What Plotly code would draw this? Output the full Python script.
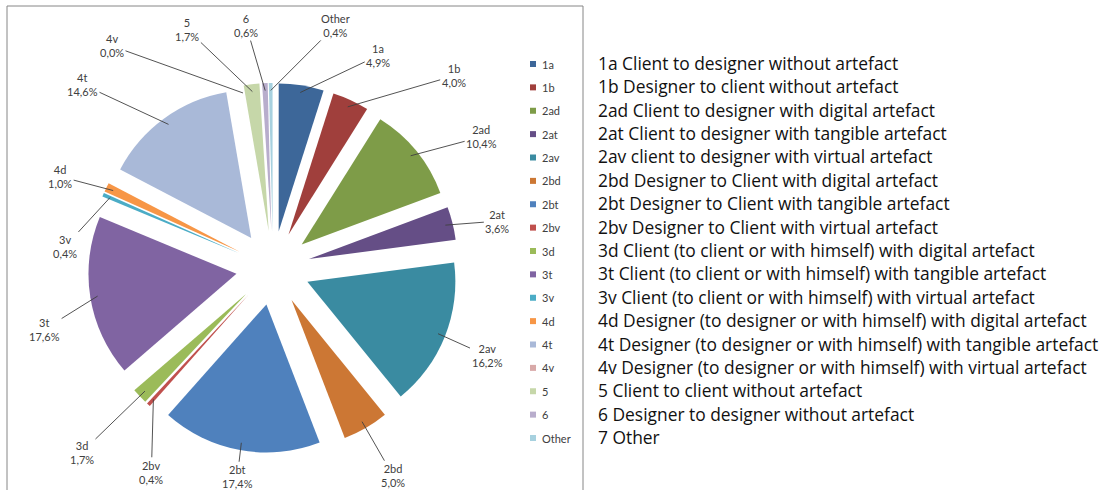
import math
import plotly.graph_objects as go

# ---------------- data ----------------
categories = ["1a", "1b", "2ad", "2at", "2av", "2bd", "2bt", "2bv", "3d", "3t",
              "3v", "4d", "4t", "4v", "5", "6", "Other"]
values = [4.9, 4.0, 10.4, 3.6, 16.2, 5.0, 17.4, 0.4, 1.7, 17.6,
          0.4, 1.0, 14.6, 0.0, 1.7, 0.6, 0.4]
descriptions = [
    "1a Client to designer without artefact",
    "1b Designer to client without artefact",
    "2ad Client to designer with digital artefact",
    "2at Client to designer with tangible artefact",
    "2av client to designer with virtual artefact",
    "2bd Designer to Client with digital artefact",
    "2bt Designer to Client with tangible artefact",
    "2bv Designer to Client with virtual artefact",
    "3d Client (to client or with himself) with digital artefact",
    "3t Client (to client or with himself) with tangible artefact",
    "3v Client (to client or with himself) with virtual artefact",
    "4d Designer (to designer or with himself) with digital artefact",
    "4t Designer (to designer or with himself) with tangible artefact",
    "4v Designer (to designer or with himself) with virtual artefact",
    "5 Client to client without artefact",
    "6 Designer to designer without artefact",
    "7 Other",
]

# ---------------- style ----------------
colors = ["#3D6799", "#A03F3C", "#7E9C48", "#654E86", "#3A8BA1", "#CC7734",
          "#4F81BD", "#C0504D", "#9BBB59", "#8064A2", "#4BACC6", "#F79646",
          "#A9B9D8", "#D8A9A8", "#C6D7A9", "#B8ADCC", "#A7D1DF"]
# label offsets (pixels) from leader-line start, like Excel's moved labels
label_dx = [78, 106, 71, 52, 49, 31, -4, -2, -63, -53, -45, -53, -86, -131, -65, -19, 65]
label_dy = [-37, -31, -19, -4, 22, 54, 34, 73, 61, 33, 49, -14, -40, -47, -62, -65, -65]

W, H = 1107, 490
PULL = 0.25
CX, CY = 273.0, 268.0        # pie centre in pixels
HALF = 185.0                 # half size of pie box in pixels
R = HALF / (1 + PULL)        # plotly's pie radius for that box
LABEL_FONT = "Lato, 'Open Sans', sans-serif"
DESC_FONT = "'Open Sans', Lato, sans-serif"
TXT = "#404040"

fig = go.Figure()
fig.add_trace(go.Pie(
    labels=categories, values=values, sort=False, direction="clockwise",
    rotation=0, pull=[PULL] * len(values),
    marker=dict(colors=colors, line=dict(width=0)),
    textinfo="none", hoverinfo="label+percent", showlegend=False,
    domain=dict(x=[(CX - HALF) / W, (CX + HALF) / W],
                y=[(H - CY - HALF) / H, (H - CY + HALF) / H]),
))

annotations = []
shapes = []

# data labels with leader lines
total = sum(values)
cum = 0.0
for i, (lab, v) in enumerate(zip(categories, values)):
    mid = (cum + v / 2) / total * 2 * math.pi
    cum += v
    dist = PULL * R + 0.95 * R
    tx = CX + dist * math.sin(mid)
    ty = CY - dist * math.cos(mid)
    pct = f"{v:.1f}".replace(".", ",") + "%"
    annotations.append(dict(
        x=tx / W, y=1 - ty / H, xref="paper", yref="paper",
        text=f"{lab}<br>{pct}", showarrow=True, arrowhead=0, arrowwidth=0.9,
        arrowcolor="#404040", standoff=0, ax=label_dx[i], ay=label_dy[i],
        axref="pixel", ayref="pixel",
        font=dict(family=LABEL_FONT, size=11, color=TXT), align="center",
    ))

# legend (manual, Excel-like spacing)
LEG_TOP, LEG_STEP = 64.0, 23.375
for i, lab in enumerate(categories):
    yc = LEG_TOP + i * LEG_STEP
    shapes.append(dict(type="rect", xref="paper", yref="paper",
                       x0=530 / W, x1=536 / W, y0=1 - (yc - 3) / H, y1=1 - (yc + 3) / H,
                       fillcolor=colors[i], line=dict(width=0)))
    annotations.append(dict(x=540 / W, y=1 - yc / H, xref="paper", yref="paper",
                            text=lab, showarrow=False, xanchor="left", yanchor="middle",
                            font=dict(family=LABEL_FONT, size=11, color=TXT)))

# description block on the right
for i, d in enumerate(descriptions):
    yc = 63.0 + i * LEG_STEP
    annotations.append(dict(x=596 / W, y=1 - yc / H, xref="paper", yref="paper",
                            text=d, showarrow=False, xanchor="left", yanchor="middle",
                            font=dict(family=DESC_FONT, size=17.4, color="#111111")))

# chart-area border
shapes.append(dict(type="rect", xref="paper", yref="paper",
                   x0=7 / W, x1=583 / W, y0=1 - 6 / H, y1=-0.2,
                   line=dict(color="#868686", width=1), fillcolor="rgba(0,0,0,0)"))

fig.update_layout(
    width=W, height=H, margin=dict(l=0, r=0, t=0, b=0),
    paper_bgcolor="white", plot_bgcolor="white",
    annotations=annotations, shapes=shapes, showlegend=False,
)
fig.write_html("out.html")
